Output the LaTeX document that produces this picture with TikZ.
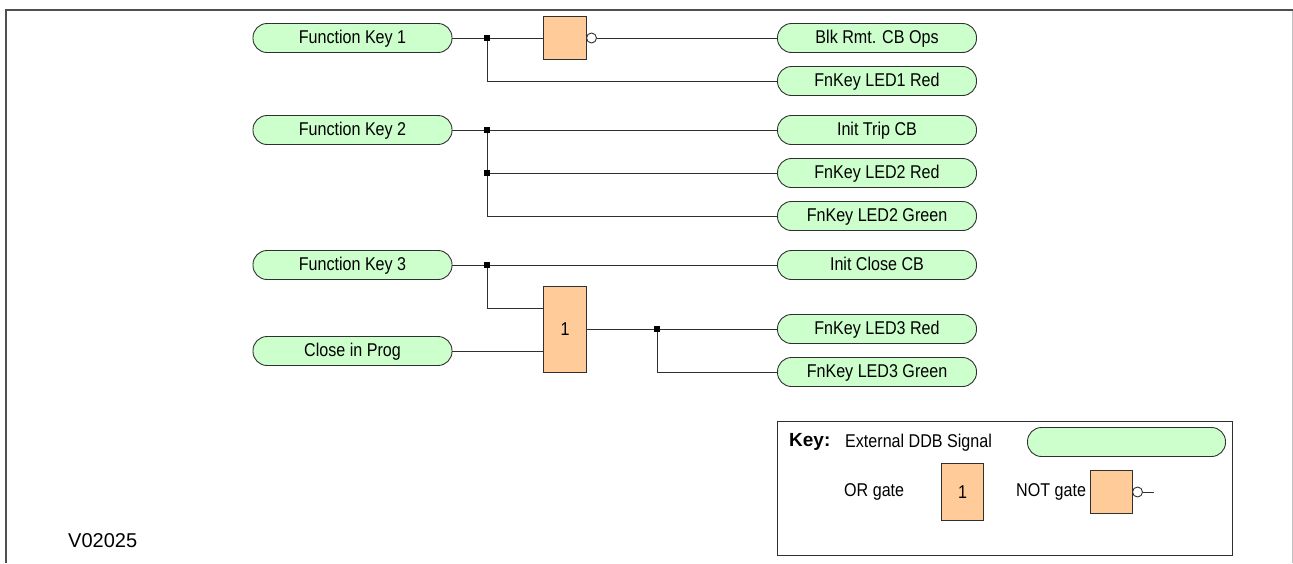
\documentclass[tikz,border=0pt]{standalone}
\usepackage{fontspec}
\setmainfont{Liberation Sans}
\newfontfamily\narrowfont[FakeStretch=0.87]{Liberation Sans}
\definecolor{sig}{HTML}{CCFFCC}
\definecolor{gate}{HTML}{FFCC99}
\definecolor{wire}{HTML}{303030}
\tikzset{x=1pt,y=-1pt,
  every node/.style={font=\narrowfont\fontsize{18.5pt}{20pt}\selectfont,text=black,inner sep=0pt},
  sigbox/.style={draw=wire,line width=0.9pt,fill=sig,rounded corners=14pt,minimum height=29pt,text height=13.5pt,text depth=3.5pt},
  gatebox/.style={draw=wire,line width=0.9pt,fill=gate},
  wireline/.style={draw=wire,line width=0.85pt},
  joint/.style={fill=black,minimum size=6.5pt,draw=none},
  bubble/.style={circle,draw=wire,line width=0.9pt,fill=white,minimum size=10pt}}
\begin{document}
\begin{tikzpicture}
\useasboundingbox (0,0) rectangle (1293,563);
\draw[draw=wire!85!white,line width=2pt] (6,563) -- (6,10) -- (1293,10);
\draw[draw=black!25,line width=1.2pt] (1292.4,11) -- (1292.4,563);
\foreach \n/\y/\t in {fk1/38/Function Key 1,fk2/130/Function Key 2,fk3/265/Function Key 3,cip/351/Close in Prog}
  {\node[sigbox,minimum width=199pt] (\n) at (352.5,\y) {\t};}
\foreach \n/\y/\t in {blk/38/Blk Rmt. CB Ops,r1/81/FnKey LED1 Red,itc/130/Init Trip CB,r2/173/FnKey LED2 Red,g2/216/FnKey LED2 Green,icc/265/Init Close CB,r3/329/FnKey LED3 Red,g3/372/FnKey LED3 Green}
  {\node[sigbox,minimum width=199pt] (\n) at (877,\y) {\t};}
\node[gatebox,minimum width=43pt,minimum height=43pt] (nt) at (565,38) {};
\node[bubble] (nb) at (591.5,38) {};
\node[gatebox,minimum width=43pt,minimum height=86pt] (org) at (565,329) {1};
\coordinate (j1) at (487,38);
\coordinate (j2) at (487,130);
\coordinate (j3) at (487,173);
\coordinate (j4) at (487,265);
\coordinate (j5) at (657,329);
\draw[wireline] (fk1) -- (nt);
\draw[wireline] (nb) -- (blk);
\draw[wireline] (j1) |- (r1.west);
\draw[wireline] (fk2) -- (itc);
\draw[wireline] (j2) |- (g2.west);
\draw[wireline] (j3) -- (r2);
\draw[wireline] (fk3) -- (icc);
\draw[wireline] (j4) |- (org.west |- 0,308);
\draw[wireline] (cip) -- (org.west |- cip);
\draw[wireline] (org.east |- r3) -- (r3);
\draw[wireline] (j5) |- (g3.west);
\foreach \j in {j1,j2,j3,j4,j5} \node[joint] (m\j) at (\j) {};
\node[anchor=west,font=\rmfamily\fontsize{20pt}{22pt}\selectfont] (ver) at (68,541) {V02025};
\draw[draw=wire,line width=0.9pt,fill=white] (777,421) rectangle (1232,555);
\node[anchor=west,font=\rmfamily\fontsize{19pt}{21pt}\selectfont\bfseries] (key) at (789,442) {Key:};
\node[anchor=west] (ext) at (845,443) {External DDB Signal};
\node[sigbox,minimum width=198pt] (ks) at (1126.5,442) {};
\node[anchor=west] (kor) at (844,492) {OR gate};
\node[gatebox,minimum width=42pt,minimum height=57pt] (kog) at (962.5,492) {1};
\node[anchor=west] (kno) at (1016,492) {NOT gate};
\node[gatebox,minimum width=42pt,minimum height=43pt] (kng) at (1111,492) {};
\node[bubble] (kb) at (1137.5,492) {};
\coordinate (kend) at (1154,492);
\draw[wireline] (kb) -- (kend);
\end{tikzpicture}
\end{document}
